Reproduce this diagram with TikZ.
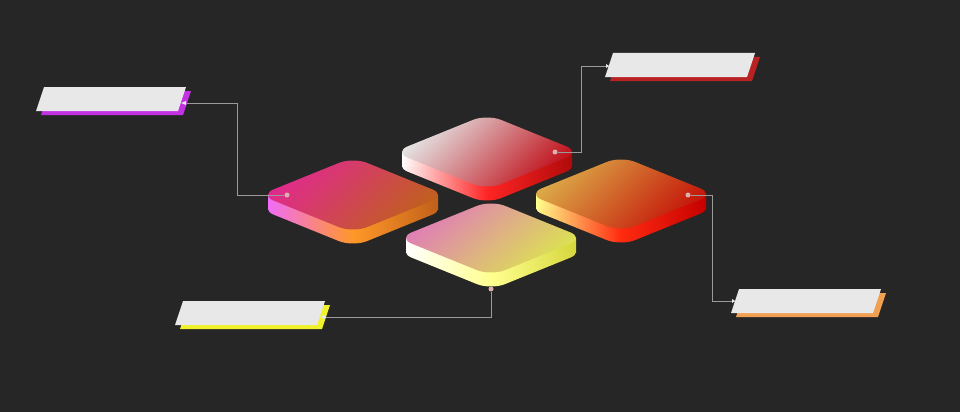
\documentclass[tikz,border=0pt]{standalone}
\usepackage{tikz}
\usetikzlibrary{positioning}
\usetikzlibrary{calc}

\definecolor{bgcol}{HTML}{262626}
\definecolor{wirecol}{HTML}{9A9A9A}
\definecolor{dotcol}{HTML}{DCB0B0}
\definecolor{panelcol}{HTML}{E8E8E8}
\definecolor{magbar}{HTML}{C232E2}
\definecolor{redbar}{HTML}{B82222}
\definecolor{yelbar}{HTML}{F2F22A}
\definecolor{orabar}{HTML}{F0A050}
% tile colours: face top, face bottom, side left, side middle, side right
\definecolor{magA}{HTML}{E02A8E}\definecolor{magB}{HTML}{C0601C}
\definecolor{magL}{HTML}{F06CF8}\definecolor{magM}{HTML}{FF9828}\definecolor{magR}{HTML}{C0601A}
\definecolor{redA}{HTML}{E4E4E4}\definecolor{redB}{HTML}{C0101A}
\definecolor{redM}{HTML}{FF2424}\definecolor{redR}{HTML}{B00A0A}
\definecolor{oraA}{HTML}{DCAA48}\definecolor{oraB}{HTML}{C41408}
\definecolor{oraL}{HTML}{FFFF8C}\definecolor{oraM}{HTML}{FF2A10}\definecolor{oraR}{HTML}{C40000}
\definecolor{yelA}{HTML}{E07CB8}\definecolor{yelB}{HTML}{DCE450}
\definecolor{yelM}{HTML}{FFFF90}\definecolor{yelR}{HTML}{D6D63C}

\tikzset{
	wire/.style={draw=wirecol, line width=0.8pt},
	dot/.style={circle, fill=dotcol, inner sep=0pt, minimum size=5pt},
}

% rounded square, side 2, drawn in the tile's own axes
\newcommand{\tilesq}{(-0.7,-1) -- (0.7,-1) .. controls (0.8657,-1) and (1,-0.8657) .. (1,-0.7) -- (1,0.7) .. controls (1,0.8657) and (0.8657,1) .. (0.7,1) -- (-0.7,1) .. controls (-0.8657,1) and (-1,0.8657) .. (-1,0.7) -- (-1,-0.7) .. controls (-1,-0.8657) and (-0.8657,-1) .. (-0.7,-1) -- cycle}

% #1 centre, #2/#3 face colours, #4 face angle, #5/#6/#7 side colours
\newcommand{\tile}[7]{%
	\begin{scope}[shift={(#1)}, x={(46.6pt,-18.9pt)}, y={(-46.6pt,-18.9pt)}]
		\shade[yshift=-14pt, left color=#5, right color=#7, middle color=#6] \tilesq;
		\shade[left color=#5, right color=#7, middle color=#6] (-0.912,0.912) -- (0.912,-0.912) -- ++(0pt,-14pt) -- ([yshift=-14pt]-0.912,0.912) -- cycle;
		\shade[top color=#2, bottom color=#3, shading angle=#4] \tilesq;
	\end{scope}}

% #1 top left corner, #2 bar colour
\newcommand{\panel}[2]{%
	\fill[#2] ([shift={(5,4)}]#1) -- ++(142,0) -- ++(-8,24) -- ++(-142,0) -- cycle;
	\fill[panelcol] (#1) -- ++(142,0) -- ++(-8,24) -- ++(-142,0) -- cycle;}

\begin{document}
\begin{tikzpicture}[x=1pt,y=-1pt]
			\fill[bgcol] (0,0) rectangle (960,412);
			\useasboundingbox (0,0) rectangle (960,412);
			% tiles, back to front
			\tile{487,152}{redA}{redB}{45}{white}{redM}{redR}
			\tile{353,195}{magA}{magB}{45}{magL}{magM}{magR}
			\tile{621,194}{oraA}{oraB}{45}{oraL}{oraM}{oraR}
			\tile{491,238}{yelA}{yelB}{40}{white}{yelM}{yelR}
			% dots and bends
			\node at (287,195) (dL) [dot] {};
			\node at (555,152) (dT) [dot] {};
			\node at (688,195) (dR) [dot] {};
			\node at (491,289) (dB) [dot] {};
			\coordinate (kL) at (237,103); \coordinate (kT) at (581,66); \coordinate (kR) at (712,301);
			\coordinate (pL) at (181,103); \coordinate (pT) at (609,66);
			\coordinate (pR) at (735,301); \coordinate (pB) at (320,317);
			\draw[wire] (dL) -| (kL) -- (pL);
			\draw[wire] (dT) -| (kT) -- (pT);
			\draw[wire] (dR) -| (kR) -- (pR);
			\draw[wire] (dB) |- (pB);
			% label panels
			\panel{44,87}{magbar}
			\panel{613,53}{redbar}
			\panel{183,301}{yelbar}
			\panel{739,289}{orabar}
			\fill[panelcol] (pL) -- ++(5,-2) -- ++(0,4) -- cycle;
			\fill[panelcol] (pB) -- ++(5,-2) -- ++(0,4) -- cycle;
			\fill[panelcol] (pT) -- ++(-3,-2) -- ++(0,4) -- cycle;
			\fill[panelcol] (pR) -- ++(-3,-2) -- ++(0,4) -- cycle;
			\end{tikzpicture}
\end{document}
